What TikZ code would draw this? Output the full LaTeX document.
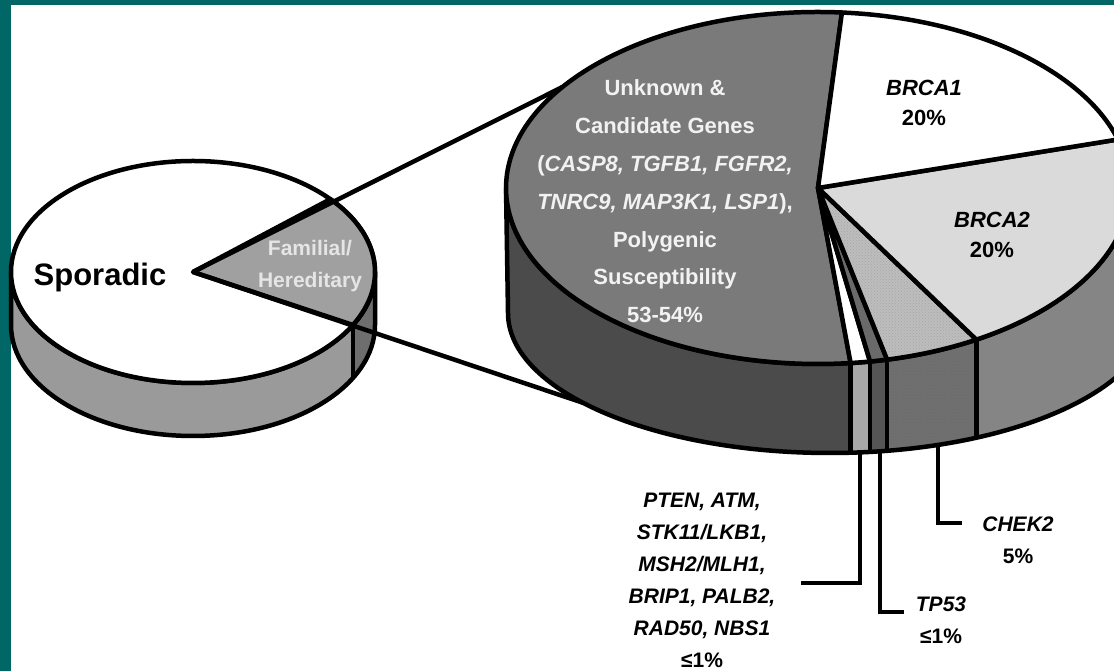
\documentclass[tikz,border=0pt]{standalone}
\usepackage{fontspec}
\setmainfont{Liberation Sans}
\usepackage{xcolor}
\usetikzlibrary{calc,patterns,positioning}
\definecolor{frameteal}{HTML}{006666}
\definecolor{unktop}{HTML}{7A7A7A}
\definecolor{unkside}{HTML}{4B4B4B}
\definecolor{brcatop}{HTML}{DADADA}
\definecolor{brcaside}{HTML}{858585}
\definecolor{chektop}{HTML}{BDBDBD}
\definecolor{chekside}{HTML}{6E6E6E}
\definecolor{tptop}{HTML}{6A6A6A}
\definecolor{tpside}{HTML}{555555}
\definecolor{ptenside}{HTML}{A8A8A8}
\definecolor{famtop}{HTML}{A0A0A0}
\definecolor{famside}{HTML}{6E6E6E}
\definecolor{sporside}{HTML}{9A9A9A}
\tikzset{
    pieline/.style = {line width=4.5pt, line join=round},
    leader/.style = {line width=3.5pt},
    intext/.style = {align=center, inner sep=0pt, font=\bfseries\fontsize{22}{37.8}\selectfont},
    slicetext/.style = {align=center, inner sep=0pt, font=\bfseries\fontsize{22}{30}\selectfont},
    gene/.style = {align=center, inner sep=0pt, font=\bfseries\fontsize{21}{32}\selectfont}
}
% side walls of the two pies
\newcommand{\smallside}{(11,399) -- (11,346) arc[start angle=180, end angle=360, x radius=182, y radius=111] -- (375,399) arc[start angle=0, end angle=-180, x radius=182, y radius=111] -- cycle}
\newcommand{\bigside}{(506,483) -- (508,358) arc[start angle=180, end angle=360, x radius=322, y radius=140] -- (1130,483) arc[start angle=0, end angle=-180, x radius=312, y radius=176] -- cycle}
\newcommand{\bigslice}[3]{\filldraw[pieline,#3] (bigc) -- ++(#1:312 and 176) arc[start angle=#1, end angle=#2, x radius=312, y radius=176] -- cycle;}

\begin{document}
\begin{tikzpicture}[x=1pt, y=1pt]
    \fill[white] (0,0) rectangle (1114,671);
    \clip (0,0) rectangle (1114,671);
    \fill[frameteal] (0,666) rectangle (1114,671);
    \fill[frameteal] (0,0) rectangle (11,671);

    % small pie
    \coordinate (smallc) at (193,399);
    \fill[sporside] \smallside;
    \begin{scope}
        \clip (353,0) rectangle (400,671);
        \fill[famside] \smallside;
    \end{scope}
    \draw[pieline] \smallside;
    \filldraw[pieline, fill=white] (smallc) ellipse [x radius=182, y radius=111];
    \filldraw[pieline, fill=famtop] (smallc) -- ++(41:182 and 111) arc[start angle=41, end angle=-28.5, x radius=182, y radius=111] -- cycle;
    \draw[pieline] ($(smallc)+(-28.5:182 and 111)$) -- ++(0,-53);

    % big pie
    \coordinate (bigc) at (818,483);
    \coordinate (upperend) at ($(bigc)+(145:312 and 176)$);
    \coordinate (lowerend) at (583,268.2);
    \draw[pieline] (smallc) -- (upperend);
    \draw[pieline] (smallc) -- (lowerend);

    \fill[unkside] \bigside;
    \foreach \xa/\xb/\col in {850.6/870/ptenside, 870/887.1/tpside, 887.1/976.3/chekside, 976.3/1200/brcaside}{
        \begin{scope}
            \clip (\xa,0) rectangle (\xb,671);
            \fill[\col] \bigside;
        \end{scope}
    }
    \begin{scope}
        \clip (887.1,0) rectangle (976.3,671);
        \fill[pattern=crosshatch dots, pattern color=black!55] \bigside;
    \end{scope}
    \begin{scope}
        \clip \bigside;
        \foreach \xa in {850.6, 870, 887.1, 976.3}
            \draw[pieline] (\xa,0) -- (\xa,671);
    \end{scope}
    \draw[pieline] \bigside;

    \bigslice{85.6}{276}{fill=unktop}
    \bigslice{276}{279.6}{fill=white}
    \bigslice{-80.4}{-77.2}{fill=tptop}
    \bigslice{-77.2}{-59.5}{preaction={fill=chektop}, pattern=crosshatch dots, pattern color=black!35}
    \bigslice{-59.5}{16}{fill=brcatop}
    \bigslice{16}{85.6}{fill=white}

    % texts
    \node[font=\bfseries\fontsize{31}{36}\selectfont, inner sep=0pt] (sporadic) at (100,394) {Sporadic};
    \node[gene, text=white!90!black] (familial) at (310,405) {Familial/\\Hereditary};
    \node[intext, text=white!95!black] (unknown) at (665,469.5) {Unknown \&\\Candidate Genes\\(\textit{CASP8, TGFB1, FGFR2,}\\\textit{TNRC9, MAP3K1, LSP1}),\\Polygenic\\Susceptibility\\53-54\%};
    \node[slicetext] (brca1) at (924,568) {\textit{BRCA1}\\20\%};
    \node[slicetext] (brca2) at (992,436) {\textit{BRCA2}\\20\%};

    \node[gene] (pten) at (702,91) {\textit{PTEN, ATM,}\\\textit{STK11/LKB1,}\\\textit{MSH2/MLH1,}\\\textit{BRIP1, PALB2,}\\\textit{RAD50, NBS1}\\≤1\%};
    \node[gene] (tp53) at (941,51) {\textit{TP53}\\≤1\%};
    \node[gene] (chek2) at (1018,131) {\textit{CHEK2}\\5\%};

    \coordinate (ptenfoot) at (860,219);
    \coordinate (tpfoot) at (880,220);
    \coordinate (chekfoot) at (938,226);
    \draw[leader] (ptenfoot) |- ([xshift=25pt, yshift=-3pt]pten.east);
    \draw[leader] (tpfoot) |- ([xshift=-12pt, yshift=8pt]tp53.west);
    \draw[leader] (chekfoot) |- ([xshift=-20pt, yshift=17pt]chek2.west);
\end{tikzpicture}
\end{document}
